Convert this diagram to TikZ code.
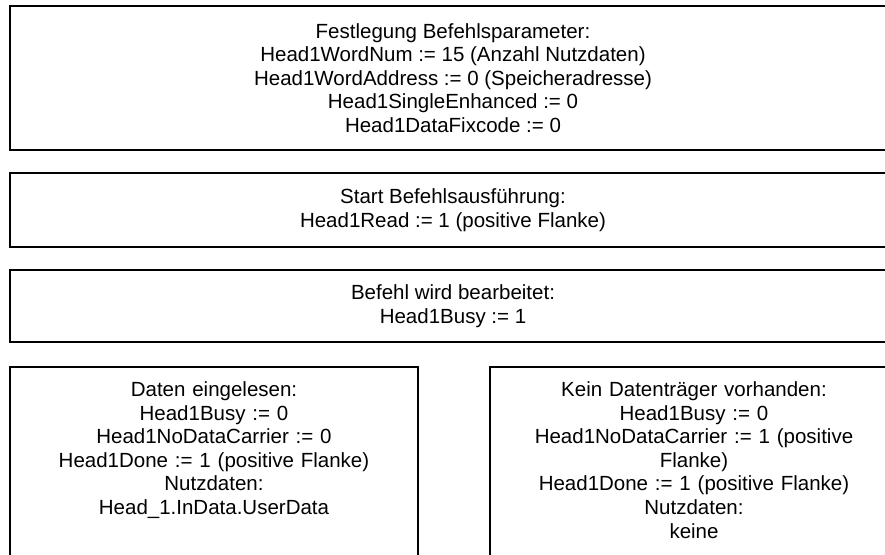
\documentclass[tikz,border=0pt]{standalone}
\usepackage{fontspec}
\setmainfont{Liberation Sans}
\usepackage{tikz}
\usetikzlibrary{positioning}
\tikzset{
    stepbox/.style={rectangle, draw=black, line width=1.2pt, fill=white, align=center, inner sep=0pt, outer sep=0pt, minimum width=886, font=\fontsize{20.5}{23.6}\selectfont},
    resultbox/.style={stepbox, minimum width=408, text width=380pt, text height=15pt, text depth=200pt, inner ysep=14.4pt}
}

\begin{document}
\begin{tikzpicture}[x=1pt, y=-1pt]
    % Page frame
    \useasboundingbox (0,0) rectangle (885,554);
    \clip (0,0) rectangle (885,554);

    % Command steps
    \node[stepbox, minimum height=144] (params) at (453,78) {Festlegung Befehlsparameter:\\
        Head1WordNum := 15 (Anzahl Nutzdaten)\\
        Head1WordAddress := 0 (Speicheradresse)\\
        Head1SingleEnhanced := 0\\
        Head1DataFixcode := 0};
    \node[stepbox, minimum height=74, below=23pt of params] (read) {Start Befehlsausführung:\\
        Head1Read := 1 (positive Flanke)};
    \node[stepbox, minimum height=72, below=23pt of read] (busy) {Befehl wird bearbeitet:\\
        Head1Busy := 1};

    % Results
    \node[resultbox, below=25pt of busy.south west, anchor=north west] (done) {Daten eingelesen:\\
        Head1Busy := 0\\
        Head1NoDataCarrier := 0\\
        Head1Done := 1 (positive Flanke)\\
        Nutzdaten:\\
        Head\_1.InData.UserData};
    \node[resultbox, right=72pt of done.north east, anchor=north west] (nocarrier) {Kein Datenträger vorhanden:\\
        Head1Busy := 0\\
        Head1NoDataCarrier := 1 (positive\\
        Flanke)\\
        Head1Done := 1 (positive Flanke)\\
        Nutzdaten:\\
        keine};

\end{tikzpicture}
\end{document}
